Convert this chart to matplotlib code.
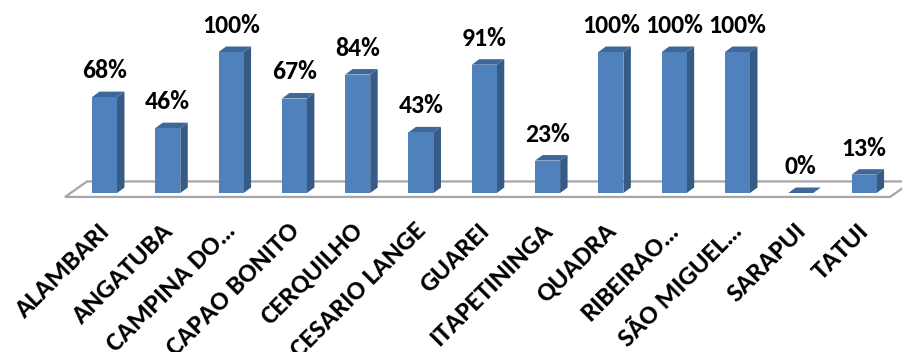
import matplotlib
matplotlib.use("Agg")
import matplotlib.pyplot as plt
from matplotlib.patches import Polygon

cities = ["ALAMBARI", "ANGATUBA", "CAMPINA DO…", "CAPAO BONITO", "CERQUILHO",
          "CESARIO LANGE", "GUAREI", "ITAPETININGA", "QUADRA", "RIBEIRAO…",
          "SÃO MIGUEL…", "SARAPUI", "TATUI"]
values = [68, 46, 100, 67, 84, 43, 91, 23, 100, 100, 100, 0, 13]

FRONT = "#4f81bd"
SIDE = "#375b87"
TOP = "#3e679a"
FLOOR = "#a6a6a6"

plt.rcParams["font.family"] = ["Carlito", "Lato", "DejaVu Sans"]

fig = plt.figure(figsize=(9.02, 3.52), dpi=100)
ax = fig.add_axes([0, 0, 1, 1])
# pixel mapping: bar i centre at 104.5 + 63.3*i px, 0% at y=193 px, 1% = 1.41 px
ax.set_xlim(-104.5 / 63.3, (902 - 104.5) / 63.3)
ax.set_ylim((193 - 352) / 1.41, 193 / 1.41)
ax.axis("off")

# floor outline
fy0, fy1 = -2.8, 8.2
fdx = 0.348
n = len(values)
floor = Polygon([(-0.624, fy0), (n - 1 + 0.41, fy0), (n - 1 + 0.41 + fdx, fy1),
                 (-0.624 + fdx, fy1)], closed=True, facecolor="white",
                edgecolor=FLOOR, linewidth=1.6, zorder=1)
ax.add_patch(floor)

w = 0.395
dx, dy = 0.118, 3.9
for i, v in enumerate(values):
    x0, x1 = i - w / 2, i + w / 2
    side = Polygon([(x1, 0), (x1 + dx, dy), (x1 + dx, v + dy), (x1, v)],
                   closed=True, facecolor=SIDE, edgecolor="none", zorder=2)
    top = Polygon([(x0, v), (x1, v), (x1 + dx, v + dy), (x0 + dx, v + dy)],
                  closed=True, facecolor=TOP, edgecolor="none", zorder=2)
    front = Polygon([(x0, 0), (x1, 0), (x1, v), (x0, v)],
                    closed=True, facecolor=FRONT, edgecolor="none", zorder=3)
    for p in (side, top, front):
        ax.add_patch(p)
    ax.text(i, v + 13.5, f"{v}%", ha="center", va="baseline",
            fontsize=18.5, fontweight="bold", color="black", zorder=4)
    ax.text(i + 0.02, -24, cities[i], rotation=45, rotation_mode="anchor",
            ha="right", va="center", fontsize=19.5, fontweight="bold",
            color="black", zorder=4)

fig.savefig("out.png", dpi=100)
